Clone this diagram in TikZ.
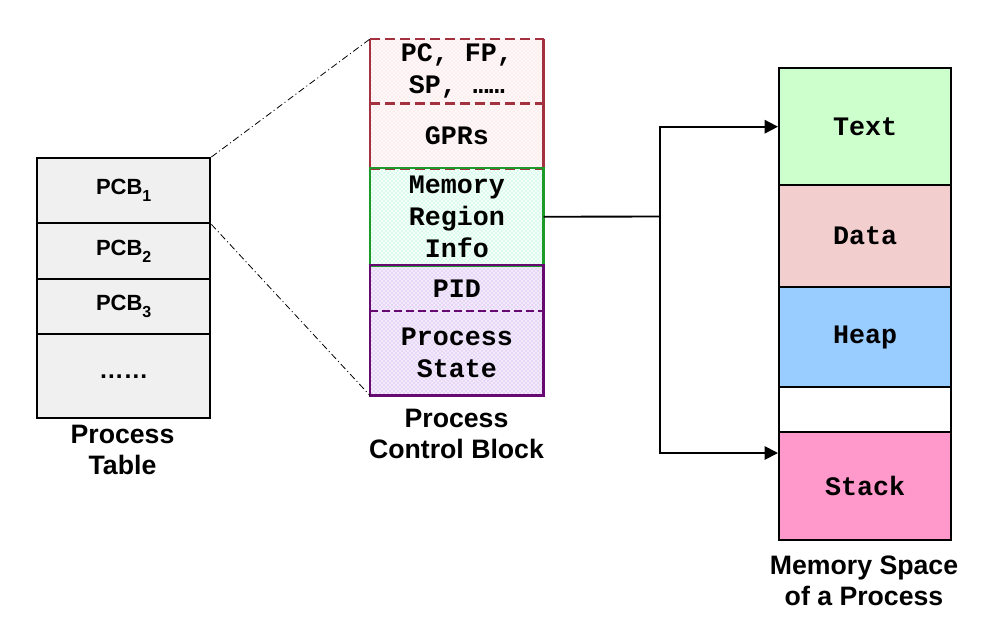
\documentclass[tikz,border=0pt]{standalone}
\usepackage{fontspec}
\setmainfont{Liberation Sans}
\newfontfamily\monofont{Liberation Mono}
\usetikzlibrary{arrows.meta,patterns,calc}

\definecolor{tablegray}{HTML}{F0F0F0}
\definecolor{regred}{HTML}{A3313F}
\definecolor{regfill}{HTML}{FFF8F8}
\definecolor{regdots}{HTML}{F6CFCF}
\definecolor{memgreen}{HTML}{1E9A2A}
\definecolor{memfill}{HTML}{F4FFFA}
\definecolor{memdots}{HTML}{86EEC6}
\definecolor{procpurple}{HTML}{660A72}
\definecolor{procfill}{HTML}{F3EAFB}
\definecolor{procdots}{HTML}{C29AEE}
\definecolor{textseg}{HTML}{CCFFCC}
\definecolor{dataseg}{HTML}{F2CECF}
\definecolor{heapseg}{HTML}{99CCFF}
\definecolor{stackseg}{HTML}{FF99CC}

% subscript index of a table entry
\newcommand{\entryidx}[1]{\raisebox{-0.32em}{\fontsize{12}{12}\selectfont #1}}

\tikzset{
  cell/.style={rectangle, inner sep=0pt, anchor=north west, align=center},
  tablecell/.style={cell, draw=black, line width=1.8pt, fill=tablegray,
    minimum width=129.75pt, font=\bfseries\fontsize{16.5}{19}\selectfont},
  pcbcell/.style={cell, minimum width=129.75pt,
    font=\monofont\bfseries\fontsize{20}{24}\selectfont},
  regcell/.style={pcbcell, fill=regfill,
    postaction={pattern=crosshatch dots, pattern color=regdots}},
  memcell/.style={pcbcell, fill=memfill,
    postaction={pattern=crosshatch dots, pattern color=memdots}},
  proccell/.style={pcbcell, fill=procfill,
    postaction={pattern=crosshatch dots, pattern color=procdots}},
  segcell/.style={cell, draw=black, line width=1.8pt, minimum width=129pt,
    font=\monofont\bfseries\fontsize{20}{24}\selectfont},
  caption/.style={align=center, font=\bfseries\fontsize{20}{23.5}\selectfont},
  wire/.style={line width=1.4pt, draw=black},
  tip/.style={-{Triangle[length=10pt,width=10pt]}},
  zoomline/.style={line width=0.6pt, dash pattern=on 5pt off 2.2pt on 0.8pt off 2.2pt}
}

\begin{document}
\begin{tikzpicture}[x=0.75pt,y=-0.75pt]
\useasboundingbox (0,0) rectangle (985,621);

% process table
\node[tablecell, minimum height=48.75pt] (pcb1) at (36,157) {PCB\entryidx{1}};
\node[tablecell, minimum height=42pt]    (pcb2) at (36,222) {PCB\entryidx{2}};
\node[tablecell, minimum height=41.25pt] (pcb3) at (36,278) {PCB\entryidx{3}};
\node[tablecell, minimum height=63pt, font=\bfseries\fontsize{18.5}{20}\selectfont]
  (more) at (36,333) {……};
\node[caption] (tablelabel) at (122.5,450) {Process\\Table};

% process control block
\node[regcell,  minimum height=48pt]    (regs)  at (370,39)  {PC, FP,\\SP, ……};
\node[regcell,  minimum height=48.75pt] (gprs)  at (370,103) {GPRs};
\node[memcell,  minimum height=72.75pt] (mem)   at (370,168) {Memory\\Region\\Info};
\node[proccell, minimum height=34.5pt]  (pid)   at (370,265) {PID};
\node[proccell, minimum height=63pt]    (state) at (370,311) {Process\\State};
\node[caption] (pcblabel) at (456.5,434) {Process\\Control Block};

% borders of the register part
\draw[regred, line width=1.6pt] (regs.north west) -- (gprs.south west)
  (regs.north east) -- (gprs.south east);
\draw[regred, line width=1.6pt, dash pattern=on 7.5pt off 3.75pt]
  (regs.north west) -- (regs.north east)
  (regs.south west) -- (regs.south east)
  (gprs.south west) -- (gprs.south east);
% border of the memory info part
\draw[memgreen, line width=1.6pt] (mem.north west) rectangle (mem.south east);
% borders of the process part
\draw[procpurple, line width=1.6pt] (pid.north west) rectangle (state.south east);
\draw[procpurple, line width=1pt, dash pattern=on 6pt off 3pt]
  (state.north west) -- (state.north east);

% memory space
\node[segcell, fill=textseg,  minimum height=87.75pt] (text)  at (778,67)  {Text};
\node[segcell, fill=dataseg,  minimum height=76.5pt]  (data)  at (778,184) {Data};
\node[segcell, fill=heapseg,  minimum height=75pt]    (heap)  at (778,286) {Heap};
\node[segcell, fill=white,    minimum height=33.75pt] (free)  at (778,386) {};
\node[segcell, fill=stackseg, minimum height=81pt]    (stack) at (778,431) {Stack};
\node[caption] (memlabel) at (864,581) {Memory Space\\of a Process};

% zoom lines from the table entry to the block
\draw[zoomline] (pcb1.north east) -- (regs.north west);
\draw[zoomline] (pcb1.south east) -- (state.south west);

% memory region pointers
\coordinate (split) at (660,216.5);
\coordinate (stackin) at (778,453);
\draw[wire] (mem.east) -- (split);
\draw[wire, tip] (split) |- (text.west);
\draw[wire, tip] (split) |- (stackin);
\end{tikzpicture}
\end{document}
